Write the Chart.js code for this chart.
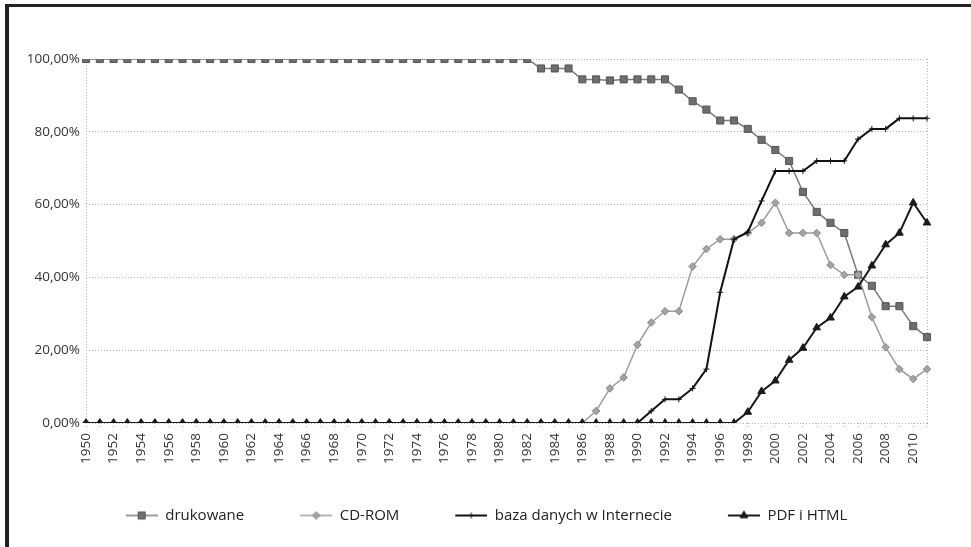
<!DOCTYPE html>
<html>
<head>
<meta charset="utf-8">
<script src="https://cdn.jsdelivr.net/npm/chart.js@4.4.1/dist/chart.umd.min.js"></script>
<style>
  html, body { margin: 0; padding: 0; background: #fff; }
  #wrap { position: relative; width: 971px; height: 547px; overflow: hidden; }
  #frameTop { position: absolute; left: 5px; top: 4px; width: 966px; height: 3px; background: #222; }
  #frameLeft { position: absolute; left: 5px; top: 4px; width: 4px; height: 543px; background: #222; }
  canvas { position: absolute; left: 0; top: 0; }
</style>
</head>
<body>
<div id="wrap">
  <canvas id="chart" width="971" height="547"></canvas>
  <div id="frameTop"></div>
  <div id="frameLeft"></div>
</div>
<script>
const years = [
  '1950','1951','1952','1953','1954','1955','1956','1957','1958','1959',
  '1960','1961','1962','1963','1964','1965','1966','1967','1968','1969',
  '1970','1971','1972','1973','1974','1975','1976','1977','1978','1979',
  '1980','1981','1982','1983','1984','1985','1986','1987','1988','1989',
  '1990','1991','1992','1993','1994','1995','1996','1997','1998','1999',
  '2000','2001','2002','2003','2004','2005','2006','2007','2008','2009',
  '2010','2011'
];

// udział w procentach
const drukowane = [
  100,100,100,100,100,100,100,100,100,100,
  100,100,100,100,100,100,100,100,100,100,
  100,100,100,100,100,100,100,100,100,100,
  100,100,100,97.4,97.4,97.4,94.4,94.4,94.1,94.4,
  94.4,94.4,94.4,91.6,88.4,86.1,83.1,83.1,80.8,77.8,
  75,72,63.5,58,55,52.2,40.7,37.7,32.1,32.1,
  26.6,23.6
];
const cdRom = [
  0,0,0,0,0,0,0,0,0,0,
  0,0,0,0,0,0,0,0,0,0,
  0,0,0,0,0,0,0,0,0,0,
  0,0,0,0,0,0,0,3.3,9.5,12.5,
  21.5,27.6,30.7,30.7,43,47.8,50.5,50.5,52.2,55,
  60.5,52.2,52.2,52.2,43.4,40.7,40.7,29.1,20.8,14.8,
  12.1,14.8
];
const bazaInternet = [
  0,0,0,0,0,0,0,0,0,0,
  0,0,0,0,0,0,0,0,0,0,
  0,0,0,0,0,0,0,0,0,0,
  0,0,0,0,0,0,0,0,0,0,
  0,3.3,6.5,6.5,9.5,14.8,35.9,50.5,52.4,61,
  69.2,69.2,69.2,72,72,72,78,80.8,80.8,83.7,
  83.7,83.7
];
const pdfHtml = [
  0,0,0,0,0,0,0,0,0,0,
  0,0,0,0,0,0,0,0,0,0,
  0,0,0,0,0,0,0,0,0,0,
  0,0,0,0,0,0,0,0,0,0,
  0,0,0,0,0,0,0,0,3,8.7,
  11.6,17.3,20.6,26.2,28.9,34.7,37.4,43.2,49,52.2,
  60.5,55
];

const FONT = '"Open Sans", sans-serif';
const ICON_GAP = 46; // pusty margines po lewej stronie ikony legendy

const series = [
  { label: 'drukowane', data: drukowane, line: '#7a7a7a', fill: '#6e6e6e', edge: '#555', style: 'rect', r: 5, w: 1.5, order: 3 },
  { label: 'CD-ROM', data: cdRom, line: '#9c9c9c', fill: '#a3a3a3', edge: '#8a8a8a', style: 'rectRot', r: 3.8, w: 1.5, order: 2 },
  { label: 'baza danych w Internecie', data: bazaInternet, line: '#111', fill: '#111', edge: '#111', style: 'cross', r: 3, w: 2, order: 1 },
  { label: 'PDF i HTML', data: pdfHtml, line: '#1a1a1a', fill: '#1a1a1a', edge: '#1a1a1a', style: 'triangle', r: 4.4, w: 2, order: 0 }
];

// legend icon: short line with marker in the middle
function legendIcon(s) {
  const c = document.createElement('canvas');
  c.width = 32 + ICON_GAP; c.height = 12;
  const ctx = c.getContext('2d');
  ctx.strokeStyle = s.line;
  ctx.lineWidth = s.w;
  ctx.beginPath(); ctx.moveTo(ICON_GAP, 6); ctx.lineTo(ICON_GAP + 32, 6); ctx.stroke();
  ctx.fillStyle = s.fill;
  ctx.strokeStyle = s.edge;
  ctx.lineWidth = 1;
  Chart.helpers.drawPoint(ctx, { pointStyle: s.style, radius: s.r, rotation: 0, borderWidth: 1 }, ICON_GAP + 16, 6);
  return c;
}

new Chart(document.getElementById('chart'), {
  type: 'line',
  data: {
    labels: years,
    datasets: series.map(s => ({
      label: s.label,
      data: s.data,
      borderColor: s.line,
      borderWidth: s.w,
      pointStyle: s.style,
      pointRadius: s.r,
      pointBackgroundColor: s.fill,
      pointBorderColor: s.edge,
      pointBorderWidth: 1,
      tension: 0,
      order: s.order
    }))
  },
  options: {
    responsive: false,
    animation: false,
    layout: { padding: { left: 0, right: 44, top: 59, bottom: 14 } },
    plugins: {
      tooltip: { enabled: false },
      legend: {
        position: 'bottom',
        labels: {
          usePointStyle: true,
          pointStyleWidth: 32 + ICON_GAP,
          padding: 10,
          color: '#222',
          font: { family: FONT, size: 15 },
          generateLabels: () => series.map((s, i) => ({
            text: s.label,
            pointStyle: legendIcon(s),
            datasetIndex: i,
            fontColor: '#222',
            lineWidth: 0
          }))
        }
      }
    },
    scales: {
      x: {
        grid: {
          color: c => (c.index === 0 || c.index === years.length - 1) ? '#b5b5b5' : 'transparent',
          tickColor: '#b5b5b5',
          tickLength: 5,
          tickBorderDash: [1, 2]
        },
        border: { display: false, dash: [1, 2] },
        ticks: {
          autoSkip: false,
          minRotation: 90,
          maxRotation: 90,
          padding: 5,
          color: '#333',
          font: { family: FONT, size: 13.5 },
          callback: function (v, i) { return i % 2 === 0 ? this.getLabelForValue(v) : ''; }
        },
        afterFit: s => { s.height = 75; }
      },
      y: {
        min: 0,
        max: 100,
        grid: { color: '#b5b5b5', drawTicks: false },
        border: { display: false, dash: [1, 2] },
        ticks: {
          stepSize: 20,
          padding: 6,
          color: '#333',
          font: { family: FONT, size: 13.5 },
          callback: v => v.toFixed(2).replace('.', ',') + '%'
        },
        afterFit: s => { s.width = 86; }
      }
    }
  }
});
</script>
</body>
</html>
